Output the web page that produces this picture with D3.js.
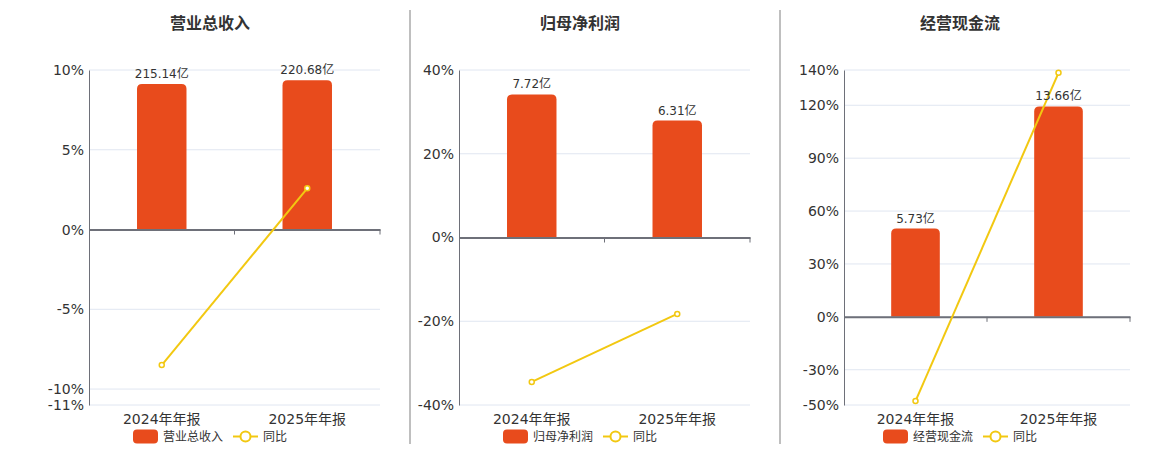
<!DOCTYPE html>
<html>
<head>
<meta charset="utf-8">
<script src="https://cdn.jsdelivr.net/npm/d3@7"></script>
<style>
  body { margin: 0; background: #fff; }
  svg text { font-family: "DejaVu Sans", "Noto Sans CJK SC", sans-serif; }
</style>
</head>
<body>
<div id="container"></div>
<script>
const BAR_COLOR = '#E84B1C'
const LINE_COLOR = '#F2C811'
const AXIS_COLOR = '#6E7079'
const GRID_COLOR = '#E0E6F1'

// data
const categories = ['2024年年报', '2025年年报']
const titles = ['营业总收入', '归母净利润', '经营现金流']
const amounts = [[215.14, 220.68], [7.72, 6.31], [5.73, 13.66]]
const amountLabels = [['215.14亿', '220.68亿'], ['7.72亿', '6.31亿'], ['5.73亿', '13.66亿']]
const yoy = [[-8.5, 2.58], [-34.5, -18.26], [-47.8, 138.4]]
const pctTicks = [[10, 5, 0, -5, -10, -11], [40, 20, 0, -20, -40], [140, 120, 90, 60, 30, 0, -30, -50]]
const pctDomains = [[-11, 10], [-40, 40], [-50, 140]]
const amountTop = [235.8, 9.04, 16.03]   // hidden bar axis value at top of plot
const lineName = '同比'

// layout
const width = 1160, height = 450
const panelCenter = [210, 580, 960]
const plotLeft = [89, 459, 844]
const plotRight = [380, 750, 1130]
const plotTop = 70, plotBottom = 405
const separators = [410, 780]

const svg = d3.select('#container').append('svg')
    .attr('width', width)
    .attr('height', height)

separators.forEach(function(sx) {
    svg.append('line')
        .attr('x1', sx).attr('x2', sx)
        .attr('y1', 10).attr('y2', 444)
        .attr('stroke', '#aaa')
        .attr('stroke-width', 1.5)
})

function topRoundedBar(x, y, w, h, r) {
    r = Math.min(r, h, w / 2)
    return 'M' + x + ',' + (y + h) +
        'V' + (y + r) +
        'Q' + x + ',' + y + ' ' + (x + r) + ',' + y +
        'H' + (x + w - r) +
        'Q' + (x + w) + ',' + y + ' ' + (x + w) + ',' + (y + r) +
        'V' + (y + h) + 'Z'
}

function draw_panel(i) {
    var g = svg.append('g')
    var x = d3.scaleBand().domain(categories).range([plotLeft[i], plotRight[i]])
    var y = d3.scaleLinear().domain(pctDomains[i]).range([plotBottom, plotTop])
    var yBar = d3.scaleLinear().domain([0, amountTop[i]]).range([y(0), plotTop])

    // title
    g.append('text')
        .attr('x', panelCenter[i]).attr('y', 29)
        .attr('text-anchor', 'middle')
        .attr('font-size', 16).attr('font-weight', 'bold')
        .attr('fill', '#333')
        .text(titles[i])

    // gridlines
    g.selectAll('.grid').data(pctTicks[i]).enter().append('line')
        .attr('x1', plotLeft[i]).attr('x2', plotRight[i])
        .attr('y1', d => y(d)).attr('y2', d => y(d))
        .attr('stroke', GRID_COLOR)

    // y axis
    var yAxis = g.append('g')
        .attr('transform', 'translate(' + plotLeft[i] + ',0)')
        .call(d3.axisLeft(y).tickValues(pctTicks[i]).tickFormat(d => d + '%').tickSize(0).tickPadding(5))
    yAxis.select('.domain').attr('stroke', AXIS_COLOR)
    yAxis.selectAll('text').attr('font-size', 14).attr('fill', '#333')
        .style('font-family', '"DejaVu Sans", "Noto Sans CJK SC", sans-serif')

    // bars
    var bw = x.bandwidth() * 0.34
    g.selectAll('.bar').data(amounts[i]).enter().append('path')
        .attr('d', function(d, j) {
            var cx = x(categories[j]) + x.bandwidth() / 2
            return topRoundedBar(cx - bw / 2, yBar(d), bw, yBar(0) - yBar(d), 5)
        })
        .attr('fill', BAR_COLOR)

    // zero axis with ticks
    var xAxis = g.append('g')
        .attr('transform', 'translate(0,' + y(0) + ')')
        .call(d3.axisBottom(x).tickSize(0).tickFormat(''))
    xAxis.select('.domain').attr('stroke', AXIS_COLOR).attr('stroke-width', 2)
    xAxis.selectAll('.tick').remove()
    g.selectAll('.xtick').data(categories.slice(1).concat(['end'])).enter().append('line')
        .attr('x1', d => d === 'end' ? plotRight[i] : x(d))
        .attr('x2', d => d === 'end' ? plotRight[i] : x(d))
        .attr('y1', y(0)).attr('y2', y(0) + 5)
        .attr('stroke', AXIS_COLOR)

    // category labels
    g.selectAll('.xlabel').data(categories).enter().append('text')
        .attr('x', d => x(d) + x.bandwidth() / 2)
        .attr('y', 424)
        .attr('text-anchor', 'middle')
        .attr('font-size', 14).attr('fill', '#333')
        .text(d => d)

    // yoy line
    var line = d3.line()
        .x((d, j) => x(categories[j]) + x.bandwidth() / 2)
        .y(d => y(d))
    g.append('path')
        .datum(yoy[i])
        .attr('d', line)
        .attr('fill', 'none')
        .attr('stroke', LINE_COLOR)
        .attr('stroke-width', 2)
    g.selectAll('.dot').data(yoy[i]).enter().append('circle')
        .attr('cx', (d, j) => x(categories[j]) + x.bandwidth() / 2)
        .attr('cy', d => y(d))
        .attr('r', 2.5)
        .attr('fill', '#fff')
        .attr('stroke', LINE_COLOR)
        .attr('stroke-width', 1.5)

    // bar value labels
    g.selectAll('.vlabel').data(amounts[i]).enter().append('text')
        .attr('x', (d, j) => x(categories[j]) + x.bandwidth() / 2)
        .attr('y', d => yBar(d) - 6)
        .attr('text-anchor', 'middle')
        .attr('font-size', 12).attr('fill', '#333')
        .text((d, j) => amountLabels[i][j])

    // legend
    var lx = panelCenter[i] - 77, ly = 436.5
    g.append('rect')
        .attr('x', lx).attr('y', ly - 7)
        .attr('width', 25).attr('height', 14)
        .attr('rx', 4)
        .attr('fill', BAR_COLOR)
    g.append('text')
        .attr('x', lx + 30).attr('y', ly + 4.5)
        .attr('font-size', 12).attr('fill', '#333')
        .text(titles[i])
    var ix = lx + 100
    g.append('line')
        .attr('x1', ix).attr('x2', ix + 25)
        .attr('y1', ly).attr('y2', ly)
        .attr('stroke', LINE_COLOR).attr('stroke-width', 2)
    g.append('circle')
        .attr('cx', ix + 12.5).attr('cy', ly).attr('r', 5)
        .attr('fill', '#fff')
        .attr('stroke', LINE_COLOR).attr('stroke-width', 2)
    g.append('text')
        .attr('x', ix + 30).attr('y', ly + 4.5)
        .attr('font-size', 12).attr('fill', '#333')
        .text(lineName)
}

titles.forEach(function(t, i) { draw_panel(i) })
</script>
</body>
</html>
